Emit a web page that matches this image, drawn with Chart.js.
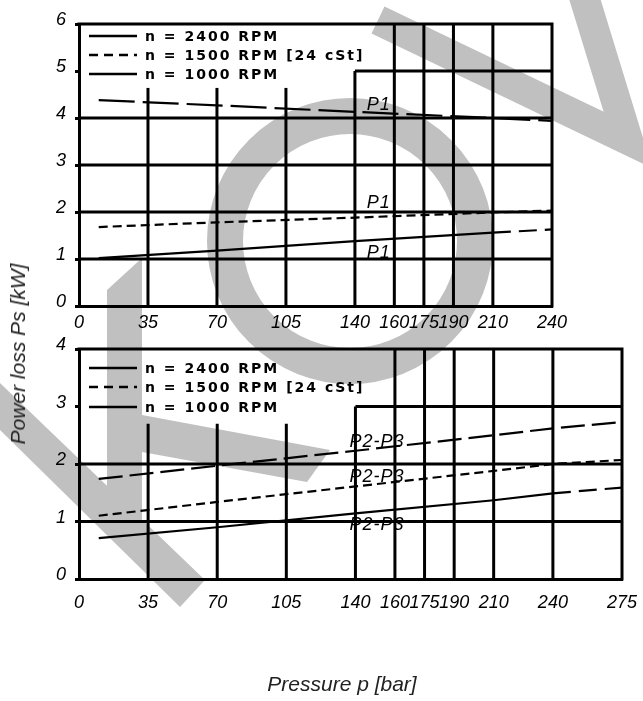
<!DOCTYPE html>
<html>
<head>
<meta charset="utf-8">
<script src="https://cdn.jsdelivr.net/npm/chart.js@4.4.1/dist/chart.umd.min.js"></script>
<style>
  html, body { margin: 0; padding: 0; background: #fff; }
  body { width: 643px; height: 701px; position: relative; overflow: hidden; }
  canvas { position: absolute; left: 0; }
  #mark { top: 0; }
  #topChart { top: 0; }
  #botChart { top: 335px; }
  .title { position: absolute; font: italic 21px "Liberation Sans", Arial, sans-serif; color: #222; white-space: nowrap; }
  #yTitle { left: 18px; top: 354px; transform: translate(-50%, -50%) rotate(-90deg); }
  #xTitle { left: 342px; top: 684px; transform: translate(-50%, -50%); }
</style>
</head>
<body>
<canvas id="mark" width="643" height="701"></canvas>
<canvas id="topChart" width="643" height="335"></canvas>
<canvas id="botChart" width="643" height="280"></canvas>
<div class="title" id="yTitle">Power loss Ps [kW]</div>
<div class="title" id="xTitle">Pressure p [bar]</div>
<script>
// ---- data ----
let legendLabels = ['n = 2400 RPM', 'n = 1500 RPM [24 cSt]', 'n = 1000 RPM'];

// upper chart (P1)
let topTicksX = [0, 35, 70, 105, 140, 160, 175, 190, 210, 240];
let topX = [10, 70, 140, 210, 240];
let top2400 = [4.38, 4.27, 4.13, 4.00, 3.94];
let top1500 = [1.68, 1.78, 1.88, 1.99, 2.03];
let top1000 = [1.02, 1.18, 1.38, 1.56, 1.63];
let topCurveLabels = ['P1', 'P1', 'P1'];
let topLabelX = [146, 146, 146];
let topLabelY = [4.17, 2.09, 1.02];

// lower chart (P2-P3)
let botTicksX = [0, 35, 70, 105, 140, 160, 175, 190, 210, 240, 275];
let botX = [10, 70, 140, 210, 240, 275];
let bot2400 = [1.74, 1.97, 2.23, 2.50, 2.62, 2.73];
let bot1500 = [1.10, 1.34, 1.61, 1.88, 2.00, 2.07];
let bot1000 = [0.71, 0.90, 1.14, 1.37, 1.49, 1.59];
let botCurveLabels = ['P2-P3', 'P2-P3', 'P2-P3'];
let botLabelX = [137, 137, 137];
let botLabelY = [2.30, 1.69, 0.85];

// partial grid lines of the sheet
let topGridY = [1, 2, 3, 4, 5];
let topGridYFrom = [0, 0, 0, 0, 140];
let topGridX = [35, 70, 105, 140, 160, 175, 190, 210];
let topGridXTo = [4.64, 4.64, 4.64, 5, 6, 6, 6, 6];
let botGridY = [1, 2, 3];
let botGridYFrom = [0, 0, 140];
let botGridX = [35, 70, 105, 140, 160, 175, 190, 210, 240];
let botGridXTo = [2.7, 2.7, 2.7, 3, 4, 4, 4, 4, 4];

// ---- watermark behind everything ----
(function () {
    let c = document.getElementById('mark').getContext('2d');
    c.fillStyle = '#c0c0c0';
    c.strokeStyle = '#c0c0c0';
    c.lineWidth = 36;
    c.beginPath();
    c.arc(350, 241, 125, 0, Math.PI * 2);
    c.stroke();
    c.lineWidth = 30;
    c.lineJoin = 'miter';
    c.beginPath();
    c.moveTo(378, 20);
    c.lineTo(628, 140);
    c.lineTo(582, -10);
    c.stroke();
    let polys = [
        [[107, 290], [142, 258], [142, 520], [107, 520]],
        [[142, 415], [330, 450], [307, 482], [142, 452]],
        [[0, 383], [205, 580], [180, 607], [0, 430]]
    ];
    polys.forEach(p => {
        c.beginPath();
        c.moveTo(p[0][0], p[0][1]);
        p.slice(1).forEach(q => c.lineTo(q[0], q[1]));
        c.closePath();
        c.fill();
    });
})();

// ---- sheet plugin: partial grid, frame, legend, curve labels ----
const sheetPlugin = {
    id: 'sheet',
    beforeDatasetsDraw(chart, args, o) {
        let ctx = chart.ctx, a = chart.chartArea, xs = chart.scales.x, ys = chart.scales.y;
        ctx.save();
        ctx.strokeStyle = '#000';
        ctx.lineWidth = 3;
        o.gridY.forEach((v, i) => {
            let y = ys.getPixelForValue(v);
            ctx.beginPath();
            ctx.moveTo(xs.getPixelForValue(o.gridYFrom[i]), y);
            ctx.lineTo(a.right, y);
            ctx.stroke();
        });
        o.gridX.forEach((v, i) => {
            let x = xs.getPixelForValue(v);
            ctx.beginPath();
            ctx.moveTo(x, a.bottom);
            ctx.lineTo(x, ys.getPixelForValue(o.gridXTo[i]));
            ctx.stroke();
        });
        ctx.beginPath();
        ctx.moveTo(a.left - 1.5, a.top);
        ctx.lineTo(a.right, a.top);
        ctx.lineTo(a.right, a.bottom + 1.5);
        ctx.stroke();
        ctx.restore();
    },
    afterDatasetsDraw(chart, args, o) {
        let ctx = chart.ctx, a = chart.chartArea, xs = chart.scales.x, ys = chart.scales.y;
        ctx.save();
        // legend
        let dashes = [[], [9, 6], []];
        legendLabels.forEach((t, i) => {
            let y = a.top + o.legendRows[i];
            ctx.strokeStyle = '#000';
            ctx.lineWidth = 2.5;
            ctx.setLineDash(dashes[i]);
            ctx.beginPath();
            ctx.moveTo(a.left + 10, y);
            ctx.lineTo(a.left + 58, y);
            ctx.stroke();
            ctx.setLineDash([]);
            ctx.fillStyle = '#000';
            ctx.font = 'bold 14px "DejaVu Sans", sans-serif';
            ctx.letterSpacing = '2px';
            ctx.textBaseline = 'middle';
            ctx.fillText(t, a.left + 66, y + 1);
        });
        // curve labels
        ctx.letterSpacing = '1px';
        ctx.font = 'italic 18px "Liberation Sans", Arial, sans-serif';
        ctx.textBaseline = 'alphabetic';
        o.labels.forEach((t, i) => {
            ctx.fillText(t, xs.getPixelForValue(o.labelX[i]), ys.getPixelForValue(o.labelY[i]));
        });
        ctx.restore();
    }
};

const tickFont = { family: '"Liberation Sans", Arial, sans-serif', size: 18, style: 'italic' };

function lineSet(xs, ys, dash, tailFrom, tailDash) {
    return {
        data: xs.map((x, i) => ({ x: x, y: ys[i] })),
        showLine: true,
        borderColor: '#000',
        borderWidth: 2.2,
        borderDash: dash,
        pointRadius: 0,
        segment: {
            borderDash: ctx => (tailFrom != null && ctx.p0.parsed.x >= tailFrom) ? tailDash : undefined
        }
    };
}

function makeChart(id, cfg) {
    return new Chart(document.getElementById(id), {
        type: 'scatter',
        data: { datasets: cfg.datasets },
        options: {
            responsive: false,
            animation: false,
            events: [],
            layout: { padding: cfg.padding },
            plugins: {
                legend: { display: false },
                tooltip: { enabled: false },
                sheet: cfg.sheet
            },
            scales: {
                x: {
                    type: 'linear',
                    min: 0,
                    max: cfg.xMax,
                    afterBuildTicks: axis => { axis.ticks = cfg.ticksX.map(v => ({ value: v })); },
                    afterFit: axis => {
                        axis.height = cfg.xHeight;
                        axis.paddingLeft = 0;
                        axis.paddingRight = 0;
                    },
                    grid: { display: false, drawTicks: false },
                    border: { display: true, width: 3, color: '#000' },
                    ticks: { autoSkip: false, maxRotation: 0, padding: cfg.xPad, font: tickFont, color: '#000' }
                },
                y: {
                    min: 0,
                    max: cfg.yMax,
                    afterFit: axis => {
                        axis.width = 79;
                        axis.paddingTop = 0;
                        axis.paddingBottom = 0;
                    },
                    grid: { drawOnChartArea: false, tickLength: 4, lineWidth: 3, color: '#000' },
                    border: { display: true, width: 3, color: '#000' },
                    ticks: { stepSize: 1, padding: 9, labelOffset: -4, font: tickFont, color: '#000' }
                }
            }
        },
        plugins: [sheetPlugin]
    });
}

makeChart('topChart', {
    xMax: 240, yMax: 6, ticksX: topTicksX, xHeight: 29, xPad: 6,
    padding: { top: 24, right: 91, left: 0, bottom: 0 },
    datasets: [
        lineSet(topX, top2400, [36, 8]),
        lineSet(topX, top1500, [9, 5]),
        lineSet(topX, top1000, [], 210, [18, 8])
    ],
    sheet: {
        gridY: topGridY, gridYFrom: topGridYFrom, gridX: topGridX, gridXTo: topGridXTo,
        legendRows: [12, 31, 50],
        labels: topCurveLabels, labelX: topLabelX, labelY: topLabelY
    }
});

makeChart('botChart', {
    xMax: 275, yMax: 4, ticksX: botTicksX, xHeight: 36, xPad: 13,
    padding: { top: 14, right: 21, left: 0, bottom: 0 },
    datasets: [
        lineSet(botX, bot2400, [24, 7]),
        lineSet(botX, bot1500, [9, 5]),
        lineSet(botX, bot1000, [], 240, [18, 8])
    ],
    sheet: {
        gridY: botGridY, gridYFrom: botGridYFrom, gridX: botGridX, gridXTo: botGridXTo,
        legendRows: [19, 38, 58],
        labels: botCurveLabels, labelX: botLabelX, labelY: botLabelY
    }
});
</script>
</body>
</html>
